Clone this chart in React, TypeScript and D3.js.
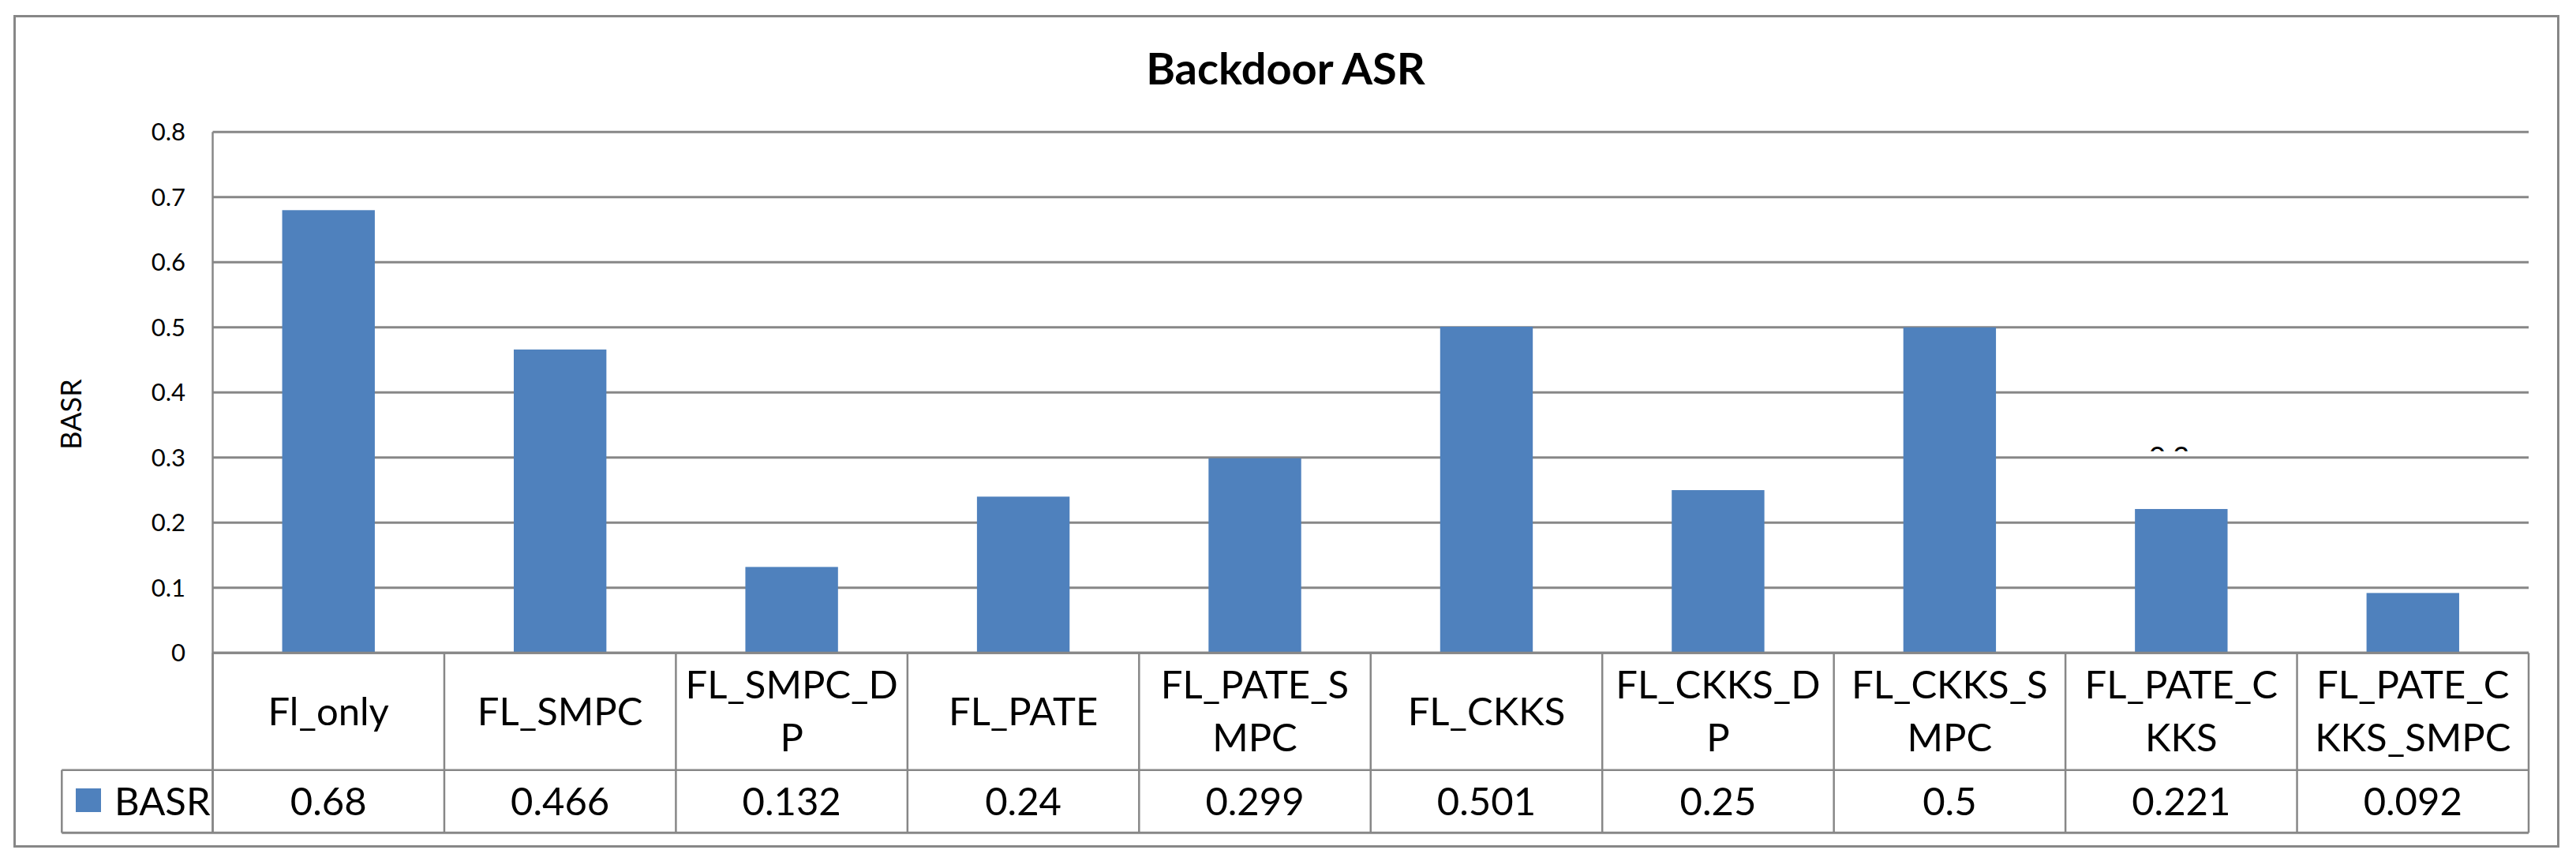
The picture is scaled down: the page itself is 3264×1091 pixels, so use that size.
import React from "react";
import * as d3 from "d3";

const chartTitle = "Backdoor ASR";
const yAxisTitle = "BASR";
const seriesName = "BASR";
const categories = [
  "Fl_only",
  "FL_SMPC",
  "FL_SMPC_DP",
  "FL_PATE",
  "FL_PATE_SMPC",
  "FL_CKKS",
  "FL_CKKS_DP",
  "FL_CKKS_SMPC",
  "FL_PATE_CKKS",
  "FL_PATE_CKKS_SMPC",
];
const values = [0.68, 0.466, 0.132, 0.24, 0.299, 0.501, 0.25, 0.5, 0.221, 0.092];
const valueLabels = ["0.68", "0.466", "0.132", "0.24", "0.299", "0.501", "0.25", "0.5", "0.221", "0.092"];
const yTicks = [0, 0.1, 0.2, 0.3, 0.4, 0.5, 0.6, 0.7, 0.8];
const yTickLabels = ["0", "0.1", "0.2", "0.3", "0.4", "0.5", "0.6", "0.7", "0.8"];

const W = 3264;
const H = 1091;
const BAR = "#4F81BD";
const LINE = "#878787";
const FONT = "Lato, 'Noto Sans', sans-serif";

const plotLeft = 269.5;
const plotRight = 3204;
const plotTop = 167.3;
const plotBottom = 827.3;
const legendRowTop = 975.7;
const tableBottom = 1055.3;
const legendLeft = 78.3;

function wrap(s: string, n: number): string[] {
  const out: string[] = [];
  for (let i = 0; i < s.length; i += n) out.push(s.slice(i, i + n));
  return out;
}

export default function App() {
  const x = d3
    .scaleBand<string>()
    .domain(categories)
    .range([plotLeft, plotRight])
    .paddingInner(0.6)
    .paddingOuter(0.3);
  const y = d3.scaleLinear().domain([0, 0.8]).range([plotBottom, plotTop]);
  const step = x.step();
  const colEdges = d3.range(categories.length + 1).map((i) => plotLeft + i * step);
  const catRowMid = (plotBottom + legendRowTop) / 2;
  const valRowMid = (legendRowTop + tableBottom) / 2;
  const lineH = 67;

  const artifactCat = categories[8];
  const artifactX = (x(artifactCat) as number) + x.bandwidth() / 2 - 0.14 * step;
  const artifactY = y(0.3);

  return (
    <svg
      width={W}
      height={H}
      viewBox={`0 0 ${W} ${H}`}
      style={{ position: "absolute", left: 0, top: 0, background: "#fff" }}
      fontFamily={FONT}
    >
      <defs>
        <clipPath id="artClip">
          <rect x={artifactX - 10} y={artifactY - 16} width={80} height={8} />
        </clipPath>
      </defs>
      <rect x={0} y={0} width={W} height={H} fill="#fff" />
      {/* outer border */}
      <rect x={18.5} y={20.5} width={3223} height={1052} fill="none" stroke={LINE} strokeWidth={3} />
      {/* title */}
      <text x={1629} y={107} textAnchor="middle" fontSize={56} fontWeight="bold" fill="#000">
        {chartTitle}
      </text>
      {/* y axis title */}
      <text
        transform={`translate(${103},${525}) rotate(-90)`}
        textAnchor="middle"
        fontSize={36}
        fill="#000"
      >
        {yAxisTitle}
      </text>
      {/* gridlines */}
      {yTicks.map((t) => (
        <line key={"g" + t} x1={plotLeft} x2={plotRight} y1={y(t)} y2={y(t)} stroke={LINE} strokeWidth={3} />
      ))}
      {/* tick labels */}
      {yTicks.map((t, i) => (
        <text
          key={"t" + t}
          x={235}
          y={y(t)}
          dy="0.36em"
          textAnchor="end"
          fontSize={31}
          fill="#000"
        >
          {yTickLabels[i]}
        </text>
      ))}
      {/* artifact (clipped hidden label) */}
      <g clipPath="url(#artClip)">
        <text x={artifactX} y={artifactY - 14} dy="0.72em" fontSize={37} fill="#000">
          0.2
        </text>
      </g>
      {/* bars */}
      {categories.map((c, i) => (
        <rect
          key={"b" + c}
          x={x(c)}
          y={y(values[i])}
          width={x.bandwidth()}
          height={plotBottom - y(values[i])}
          fill={BAR}
        />
      ))}
      {/* axis line & vertical axis */}
      <line x1={plotLeft} x2={plotLeft} y1={plotTop} y2={tableBottom} stroke={LINE} strokeWidth={2.5} />
      <line x1={plotLeft} x2={plotRight} y1={plotBottom} y2={plotBottom} stroke={LINE} strokeWidth={3} />
      {/* data table */}
      <line x1={legendLeft} x2={plotRight} y1={legendRowTop} y2={legendRowTop} stroke={LINE} strokeWidth={2.5} />
      <line x1={legendLeft} x2={plotRight} y1={tableBottom} y2={tableBottom} stroke={LINE} strokeWidth={3} />
      <line x1={legendLeft} x2={legendLeft} y1={legendRowTop} y2={tableBottom} stroke={LINE} strokeWidth={2.5} />
      {colEdges.map((cx, i) => (
        <line key={"c" + i} x1={cx} x2={cx} y1={plotBottom} y2={tableBottom} stroke={LINE} strokeWidth={2.5} />
      ))}
      {categories.map((c) => {
        const lines = wrap(c, 9);
        const cx = (x(c) as number) + x.bandwidth() / 2;
        const firstBase = catRowMid + 17 - ((lines.length - 1) * lineH) / 2;
        return (
          <text key={"l" + c} x={cx} textAnchor="middle" fontSize={49} fill="#000">
            {lines.map((ln, j) => (
              <tspan key={j} x={cx} y={firstBase + j * lineH}>
                {ln}
              </tspan>
            ))}
          </text>
        );
      })}
      {categories.map((c, i) => (
        <text
          key={"v" + c}
          x={(x(c) as number) + x.bandwidth() / 2}
          y={valRowMid + 17}
          textAnchor="middle"
          fontSize={49}
          fill="#000"
        >
          {valueLabels[i]}
        </text>
      ))}
      {/* legend key */}
      <rect x={96} y={999} width={32} height={30} fill={BAR} />
      <text x={145} y={valRowMid + 17} fontSize={49} fill="#000">
        {seriesName}
      </text>
    </svg>
  );
}
